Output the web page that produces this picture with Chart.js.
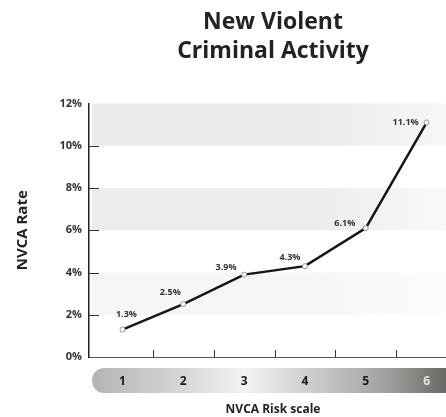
<!DOCTYPE html>
<html>
<head>
<meta charset="utf-8">
<script src="https://cdn.jsdelivr.net/npm/chart.js@4"></script>
<style>
  html, body { margin: 0; padding: 0; background: #fff; overflow: hidden; }
  #wrap { width: 446px; height: 417px; overflow: hidden; }
</style>
</head>
<body>
<div id="wrap"><canvas id="chart" width="462" height="417"></canvas></div>
<script>
// values
const riskLevels = [1, 2, 3, 4, 5, 6];
const nvcaRates = [1.3, 2.5, 3.9, 4.3, 6.1, 11.1];
const rateTicks = [0, 2, 4, 6, 8, 10, 12];
const shadedBands = [[10, 12], [6, 8], [2, 4]];

const FONT = "'Open Sans', 'DejaVu Sans', sans-serif";
const bandShades = [["#ebebeb", "#f8f8f8"], ["#ececec", "#fbfbfb"], ["#f6f6f6", "#fdfdfd"]];
// where each value label sits relative to its point (dx, dy)
const labelOffsets = [[4, -15], [-13, -12], [-18, -7], [-15, -9], [-21, -5], [-21, 0]];

const decor = {
  id: "decor",
  beforeDraw(chart) {
    const { ctx, chartArea: a, scales: { x, y } } = chart;
    ctx.save();
    // faint grey bands behind the plot, fading to the right
    shadedBands.forEach(([lo, hi], i) => {
      const t = y.getPixelForValue(hi), b = y.getPixelForValue(lo);
      const g = ctx.createLinearGradient(a.left, 0, chart.width, 0);
      g.addColorStop(0, bandShades[i][0]);
      g.addColorStop(0.6, bandShades[i][0]);
      g.addColorStop(1, bandShades[i][1]);
      ctx.fillStyle = g;
      ctx.fillRect(a.left + 3, t, chart.width - a.left, b - t);
    });
    // risk scale strip under the axis
    const left = x.getPixelForValue(riskLevels[0] - 0.5);
    const top = a.bottom + 11, h = 25;
    const g = ctx.createLinearGradient(left, 0, x.getPixelForValue(riskLevels[riskLevels.length - 1] + 0.5), 0);
    g.addColorStop(0, "#b4b4b4");
    g.addColorStop(0.2, "#cfcfcf");
    g.addColorStop(0.42, "#f3f3f3");
    g.addColorStop(0.6, "#cdcdcd");
    g.addColorStop(0.8, "#a2a3a0");
    g.addColorStop(1, "#5f615c");
    ctx.fillStyle = g;
    ctx.beginPath();
    ctx.roundRect(left, top, chart.width - left, h, [12, 0, 0, 12]);
    ctx.fill();
    ctx.restore();
  },
  afterDraw(chart) {
    const { ctx, chartArea: a, scales: { x, y } } = chart;
    ctx.save();
    // inward tick marks
    ctx.strokeStyle = "#333";
    ctx.lineWidth = 1;
    rateTicks.slice(1, -1).forEach(v => {
      const py = Math.round(y.getPixelForValue(v)) + 0.5;
      ctx.beginPath(); ctx.moveTo(a.left, py); ctx.lineTo(a.left + 10, py); ctx.stroke();
    });
    for (let i = 0; i < riskLevels.length - 1; i++) {
      const px = Math.round(x.getPixelForValue((riskLevels[i] + riskLevels[i + 1]) / 2)) + 0.5;
      ctx.beginPath(); ctx.moveTo(px, a.bottom); ctx.lineTo(px, a.bottom - 7); ctx.stroke();
    }
    // value labels
    const meta = chart.getDatasetMeta(0);
    ctx.font = "bold 9px " + FONT;
    ctx.fillStyle = "#333";
    ctx.textAlign = "center";
    ctx.textBaseline = "middle";
    meta.data.forEach((pt, i) => {
      const [dx, dy] = labelOffsets[i];
      ctx.fillText(nvcaRates[i].toFixed(1) + "%", pt.x + dx, pt.y + dy);
    });
    ctx.restore();
  }
};

new Chart(document.getElementById("chart"), {
  type: "line",
  data: {
    datasets: [{
      data: riskLevels.map((r, i) => ({ x: r, y: nvcaRates[i] })),
      borderColor: "#151515",
      borderWidth: 2.5,
      pointRadius: 2.5,
      pointBackgroundColor: "#fff",
      pointBorderColor: "#999",
      pointBorderWidth: 1,
      tension: 0,
      clip: false
    }]
  },
  options: {
    responsive: false,
    animation: false,
    layout: { padding: { left: 0, right: 2, top: 0, bottom: 0 } },
    plugins: {
      legend: { display: false },
      tooltip: { enabled: false },
      title: {
        display: true,
        text: ["New Violent", "Criminal Activity"],
        fullSize: false,
        color: "#222",
        font: { family: FONT, size: 23, weight: "bold", lineHeight: 1.25 },
        padding: { top: 8, bottom: 38 }
      }
    },
    scales: {
      x: {
        type: "linear",
        min: 0.45,
        max: 6.5,
        grid: { display: false, drawTicks: false },
        border: { color: "#555", width: 1 },
        afterBuildTicks: s => { s.ticks = riskLevels.map(v => ({ value: v })); },
        afterFit: s => { s.height = 60; },
        ticks: {
          autoSkip: false,
          maxRotation: 0,
          padding: 17,
          color: c => c.index === riskLevels.length - 1 ? "#e4e4e4" : "#1a1a1a",
          font: { family: FONT, size: 12, weight: "bold" },
          callback: v => String(v)
        },
        title: {
          display: true,
          text: "NVCA Risk scale",
          color: "#222",
          font: { family: FONT, size: 12, weight: "bold" },
          padding: { top: 0, bottom: 0 }
        }
      },
      y: {
        min: 0,
        max: 12,
        grid: { display: false, drawTicks: false },
        border: { color: "#222", width: 1.5 },
        afterBuildTicks: s => { s.ticks = rateTicks.map(v => ({ value: v })); },
        afterFit: s => { s.width = 89; },
        ticks: {
          padding: 7,
          color: "#333",
          font: { family: FONT, size: 11, weight: "bold" },
          callback: v => v + "%"
        },
        title: {
          display: true,
          text: "NVCA Rate",
          color: "#222",
          font: { family: FONT, size: 15, weight: "bold" },
          padding: { top: 14, bottom: 0 }
        }
      }
    }
  },
  plugins: [decor]
});
</script>
</body>
</html>
